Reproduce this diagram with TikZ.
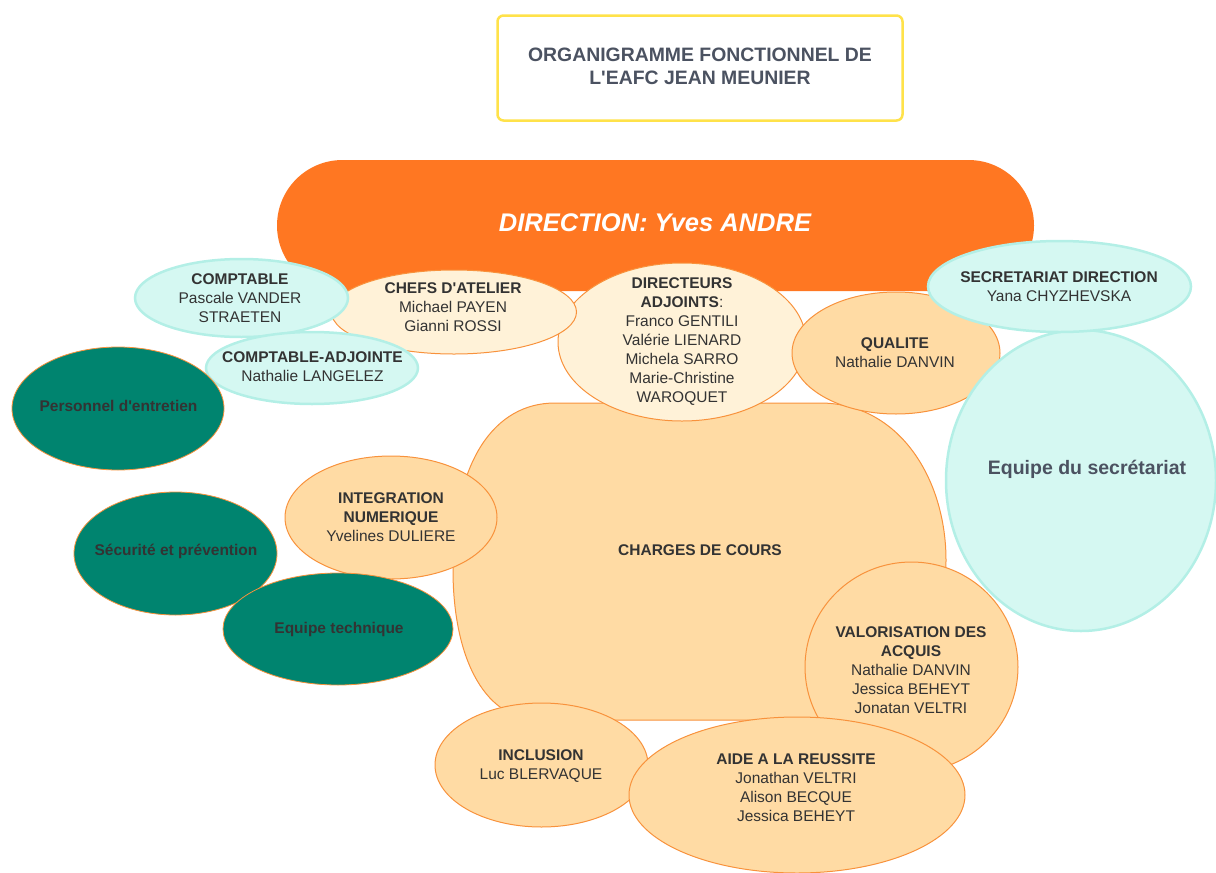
\documentclass[tikz,border=0pt]{standalone}
\usepackage{fontspec}
\setmainfont{Liberation Sans}[Ligatures=TeXOff]
\usetikzlibrary{shapes.geometric}
\definecolor{dirorange}{HTML}{FF7722}
\definecolor{cream}{HTML}{FFF2D8}
\definecolor{peach}{HTML}{FFDBA4}
\definecolor{edgeorange}{HTML}{F8923C}
\definecolor{cyanfill}{HTML}{D5F8F2}
\definecolor{cyanedge}{HTML}{B3EFE6}
\definecolor{tealfill}{HTML}{00846F}
\definecolor{txt}{HTML}{333333}
\definecolor{titletxt}{HTML}{4B5261}
\definecolor{titleedge}{HTML}{FFE24A}
\begin{document}
\begin{tikzpicture}[x=1pt,y=-1pt,
  blob/.style={ellipse, inner sep=0pt, outer sep=0pt},
  creamell/.style={blob, fill=cream, draw=edgeorange, line width=1pt},
  peachell/.style={blob, fill=peach, draw=edgeorange, line width=1pt},
  cyanell/.style={blob, fill=cyanfill, draw=cyanedge, line width=2.5pt},
  tealell/.style={blob, fill=tealfill, draw=edgeorange, line width=0.8pt},
  lbl/.style={align=center, text=txt, font=\fontsize{15.5}{19}\selectfont, inner sep=0pt},
  blbl/.style={lbl, font=\bfseries\fontsize{15.5}{19}\selectfont},
]
\useasboundingbox (0,0) rectangle (1216,873);

% title
\node[draw=titleedge, line width=2.5pt, rounded corners=6pt, fill=white,
      minimum width=405pt, minimum height=105pt, inner sep=0pt] (titlebox) at (700,68) {};
\node[lbl, text=titletxt, font=\bfseries\fontsize{19.4}{23}\selectfont] (title) at (700,66)
  {ORGANIGRAMME FONCTIONNEL DE\\L'EAFC JEAN MEUNIER};

% direction
\node[fill=dirorange, rounded corners=65.5pt, minimum width=757pt, minimum height=131pt,
      inner sep=0pt] (direction) at (655.5,225.5) {};
\node[lbl, text=white, font=\bfseries\itshape\fontsize{25.5}{30}\selectfont] (dirtext) at (655,223)
  {DIRECTION: Yves ANDRE};

% charges de cours
\path[fill=peach, draw=edgeorange, line width=1pt]
  (555,403) -- (820,403) .. controls (900,403) and (946,480) .. (946,560)
  .. controls (946,680) and (900,720) .. (810,720) -- (540,720)
  .. controls (480,720) and (453,650) .. (453,570)
  .. controls (453,460) and (495,403) .. (555,403) -- cycle;
\node[blbl] (charges) at (700,550.5) {CHARGES DE COURS};

% directeurs adjoints
\node[creamell, minimum width=248pt, minimum height=158pt] (diradj) at (682,342) {};
\node[lbl] (diradjtext) at (682,342) {\textbf{DIRECTEURS}\\\textbf{ADJOINTS}:\\Franco GENTILI\\Valérie LIENARD\\Michela SARRO\\Marie-Christine\\WAROQUET};

% qualite
\node[peachell, minimum width=208pt, minimum height=122pt] (qualite) at (896,353) {};
\node[lbl] (qualitetext) at (895,353) {\textbf{QUALITE}\\Nathalie DANVIN};

% chefs d'atelier
\node[creamell, minimum width=245pt, minimum height=84pt] (chefs) at (454,312) {};
\node[lbl] (chefstext) at (453,307.5) {\textbf{CHEFS D'ATELIER}\\Michael PAYEN\\Gianni ROSSI};

% comptable
\node[cyanell, minimum width=213pt, minimum height=78pt] (comptable) at (241.5,298) {};
\node[lbl] (comptabletext) at (240,298.5) {\textbf{COMPTABLE}\\Pascale VANDER\\STRAETEN};

% comptable-adjointe
\node[cyanell, minimum width=212pt, minimum height=72pt] (compadj) at (312,368) {};
\node[lbl] (compadjtext) at (312.5,367) {\textbf{COMPTABLE-ADJOINTE}\\Nathalie LANGELEZ};

% equipe du secretariat
\node[cyanell, minimum width=270pt, minimum height=301pt] (eqsec) at (1081,480.5) {};
\node[lbl, text=titletxt, font=\bfseries\fontsize{19.5}{23}\selectfont] (eqsectext) at (1087,469) {Equipe du secrétariat};

% secretariat direction
\node[cyanell, minimum width=263pt, minimum height=91pt] (secdir) at (1059.5,286.5) {};
\node[lbl] (secdirtext) at (1059,287) {\textbf{SECRETARIAT DIRECTION}\\Yana CHYZHEVSKA};

% teal blobs
\node[tealell, minimum width=212pt, minimum height=123pt] (personnel) at (118,408.5) {};
\node[blbl] (personneltext) at (118.5,406) {Personnel d'entretien};

\node[tealell, minimum width=203pt, minimum height=123pt] (securite) at (175.5,553.5) {};
\node[blbl] (securitetext) at (176,551) {Sécurité et prévention};

% integration numerique
\node[peachell, minimum width=212pt, minimum height=123pt] (integration) at (391,517.5) {};
\node[lbl] (integrationtext) at (391,517) {\textbf{INTEGRATION}\\\textbf{NUMERIQUE}\\Yvelines DULIERE};

\node[tealell, minimum width=230pt, minimum height=112pt] (eqtech) at (338,629) {};
\node[blbl] (eqtechtext) at (339,629) {Equipe technique};

% valorisation des acquis
\node[peachell, minimum width=213pt, minimum height=210pt] (valo) at (911.5,667) {};
\node[lbl] (valotext) at (911,670) {\textbf{VALORISATION DES}\\\textbf{ACQUIS}\\Nathalie DANVIN\\Jessica BEHEYT\\Jonatan VELTRI};

% inclusion
\node[peachell, minimum width=213pt, minimum height=124pt] (inclusion) at (541.5,765) {};
\node[lbl] (inclusiontext) at (541,766) {\textbf{INCLUSION}\\Luc BLERVAQUE};

% aide a la reussite
\node[peachell, minimum width=336pt, minimum height=156pt] (aide) at (797,795) {};
\node[lbl] (aidetext) at (796,788) {\textbf{AIDE A LA REUSSITE}\\Jonathan VELTRI\\Alison BECQUE\\Jessica BEHEYT};
\end{tikzpicture}
\end{document}
